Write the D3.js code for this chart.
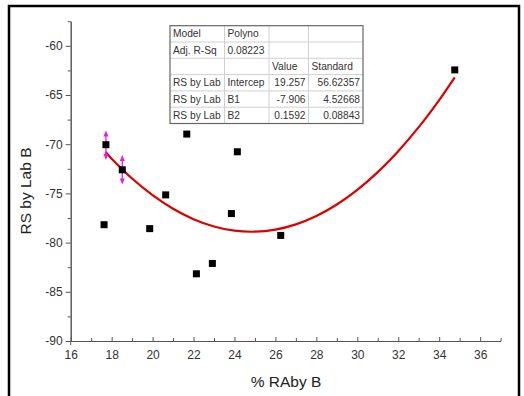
<!DOCTYPE html>
<html>
<head>
<meta charset="utf-8">
<script src="https://cdn.jsdelivr.net/npm/d3@7"></script>
<style>
  body { margin: 0; background: #fff; }
  svg { display: block; font-family: "Liberation Sans", Arial, sans-serif; }
  .axis path, .axis line { stroke: #555; }
  .axis text { fill: #333; font-size: 12px; }
</style>
</head>
<body>
<div id="chart"></div>
<script>
var xValues = [17.72, 17.63, 18.52, 19.86, 20.64, 21.67, 22.14, 22.92, 23.85, 24.14, 26.26, 34.76];
var yValues = [-70.05, -78.18, -72.6, -78.58, -75.15, -68.97, -83.17, -82.12, -77.05, -70.77, -79.27, -62.45];

// red polynomial fit line
var fitX = [17.7, 18, 19, 20, 21, 22, 23, 24, 25, 26, 27, 28, 29, 30, 31, 32, 33, 34, 34.76];
var fitY = [-70.8, -71.47, -73.49, -75.18, -76.56, -77.62, -78.36, -78.79, -78.89, -78.68,
  -78.15, -77.3, -76.13, -74.64, -72.84, -70.71, -68.27, -65.51, -63.2];

// magenta selection markers on two points
var markX = [17.72, 18.52];
var markLow = [-71.6, -74.1];
var markHigh = [-68.6, -71.1];

// axis ticks
var xTicks = [16, 18, 20, 22, 24, 26, 28, 30, 32, 34, 36];
var xMinorTicks = [17, 19, 21, 23, 25, 27, 29, 31, 33, 35, 37];
var yTicks = [-90, -85, -80, -75, -70, -65, -60];
var yMinorTicks = [-87.5, -82.5, -77.5, -72.5, -67.5, -62.5, -57.5];

// fit results table
var tableCol1 = ["Model", "Adj. R-Sq", "", "RS by Lab", "RS by Lab", "RS by Lab"];
var tableCol2 = ["Polyno", "0.08223", "", "Intercep", "B1", "B2"];
var tableCol3 = ["", "", "Value", "19.257", "-7.906", "0.1592"];
var tableCol4 = ["", "", "Standard", "56.62357", "4.52668", "0.08843"];

var svgWidth = 524;
var svgHeight = 396;

var svg = d3
  .select("#chart")
  .append("svg")
  .attr("width", svgWidth)
  .attr("height", svgHeight);

// black frame round the graph page
svg
  .append("rect")
  .attr("x", 9)
  .attr("y", 6)
  .attr("width", 510)
  .attr("height", 400)
  .attr("fill", "none")
  .attr("stroke", "#000")
  .attr("stroke-width", 2.5);

var xScale = d3.scaleLinear().domain([16, 37]).range([70.7, 500.6]);
var yScale = d3.scaleLinear().domain([-90, -57.5]).range([341, 21.2]);

// plain hyphen for negative numbers, like the original
var plainFormat = (d) => String(d);

// x axis, ticks pointing inward
var xAxis = svg
  .append("g")
  .attr("class", "axis")
  .attr("transform", "translate(0, 341)")
  .call(d3.axisBottom(xScale).tickValues(xTicks).tickFormat(plainFormat).tickSizeInner(-4).tickSizeOuter(0).tickPadding(9));

svg
  .append("g")
  .attr("class", "axis")
  .attr("transform", "translate(0, 341)")
  .call(d3.axisBottom(xScale).tickValues(xMinorTicks).tickSizeInner(-3).tickSizeOuter(0).tickFormat(""));

// y axis, ticks pointing out
var yAxis = svg
  .append("g")
  .attr("class", "axis")
  .attr("transform", "translate(70.7, 0)")
  .call(d3.axisLeft(yScale).tickValues(yTicks).tickFormat(plainFormat).tickSizeInner(5).tickSizeOuter(0).tickPadding(3));

svg
  .append("g")
  .attr("class", "axis")
  .attr("transform", "translate(70.7, 0)")
  .call(d3.axisLeft(yScale).tickValues(yMinorTicks).tickSizeInner(3).tickSizeOuter(0).tickFormat(""));

// small overhang of the y axis below the x axis
svg
  .append("line")
  .attr("x1", 70.7)
  .attr("x2", 70.7)
  .attr("y1", 341)
  .attr("y2", 345)
  .attr("stroke", "#555");

// axis titles
svg
  .append("text")
  .attr("x", 286)
  .attr("y", 387)
  .attr("text-anchor", "middle")
  .attr("font-size", "15.5px")
  .attr("fill", "#222")
  .text("% RAby B");

svg
  .append("text")
  .attr("transform", "translate(31, 191) rotate(-90)")
  .attr("text-anchor", "middle")
  .attr("font-size", "15.5px")
  .attr("fill", "#222")
  .text("RS by Lab B");

// fit curve
var fitData = fitX.map((d, i) => [d, fitY[i]]);
var line = d3
  .line()
  .x((d) => xScale(d[0]))
  .y((d) => yScale(d[1]))
  .curve(d3.curveCatmullRom);

svg
  .append("path")
  .datum(fitData)
  .attr("d", line)
  .attr("fill", "none")
  .attr("stroke", "#dd0000")
  .attr("stroke-width", 2.2);

// magenta double arrows
var markGroup = svg.append("g").attr("fill", "#e020e0").attr("stroke", "#e020e0");
markX.forEach(function (mx, i) {
  var px = xScale(mx);
  var top = yScale(markHigh[i]);
  var bottom = yScale(markLow[i]);
  markGroup
    .append("line")
    .attr("x1", px)
    .attr("x2", px)
    .attr("y1", top + 3)
    .attr("y2", bottom - 3)
    .attr("stroke-width", 1.3);
  markGroup
    .append("path")
    .attr("stroke", "none")
    .attr("d", `M${px},${top} L${px - 2.5},${top + 6} L${px + 2.5},${top + 6} Z`);
  markGroup
    .append("path")
    .attr("stroke", "none")
    .attr("d", `M${px},${bottom} L${px - 2.5},${bottom - 6} L${px + 2.5},${bottom - 6} Z`);
});

// data points as black squares
var pointData = xValues.map((d, i) => [d, yValues[i]]);
svg
  .append("g")
  .selectAll("rect")
  .data(pointData)
  .enter()
  .append("rect")
  .attr("x", (d) => xScale(d[0]) - 3.5)
  .attr("y", (d) => yScale(d[1]) - 3.5)
  .attr("width", 7)
  .attr("height", 7)
  .attr("fill", "#000");

// results table
var colEdges = [170, 224.5, 269, 308.5, 363];
var rowTop = 25.7;
var rowHeight = 16.3;
var nRows = tableCol1.length;
var table = svg.append("g");

table
  .append("rect")
  .attr("x", colEdges[0])
  .attr("y", rowTop)
  .attr("width", colEdges[4] - colEdges[0])
  .attr("height", rowHeight * nRows)
  .attr("fill", "#fff");

for (var r = 1; r < nRows; r++) {
  table
    .append("line")
    .attr("x1", colEdges[0])
    .attr("x2", colEdges[4])
    .attr("y1", rowTop + r * rowHeight)
    .attr("y2", rowTop + r * rowHeight)
    .attr("stroke", "#d0d0d0");
}
for (var c = 1; c < 4; c++) {
  table
    .append("line")
    .attr("x1", colEdges[c])
    .attr("x2", colEdges[c])
    .attr("y1", rowTop)
    .attr("y2", rowTop + rowHeight * nRows)
    .attr("stroke", "#d0d0d0");
}

table
  .append("rect")
  .attr("x", colEdges[0])
  .attr("y", rowTop)
  .attr("width", colEdges[4] - colEdges[0])
  .attr("height", rowHeight * nRows)
  .attr("fill", "none")
  .attr("stroke", "#666")
  .attr("stroke-width", 1.2);

var cols = [tableCol1, tableCol2, tableCol3, tableCol4];
cols.forEach(function (col, c) {
  col.forEach(function (txt, r) {
    // numbers are right aligned, labels left aligned
    var isNumber = r >= 3 && c >= 2;
    table
      .append("text")
      .attr("x", isNumber ? colEdges[c + 1] - 3 : colEdges[c] + 3)
      .attr("y", rowTop + r * rowHeight + rowHeight / 2 + 3.6)
      .attr("text-anchor", isNumber ? "end" : "start")
      .attr("font-size", "10.2px")
      .attr("fill", "#333")
      .text(txt);
  });
});
</script>
</body>
</html>
